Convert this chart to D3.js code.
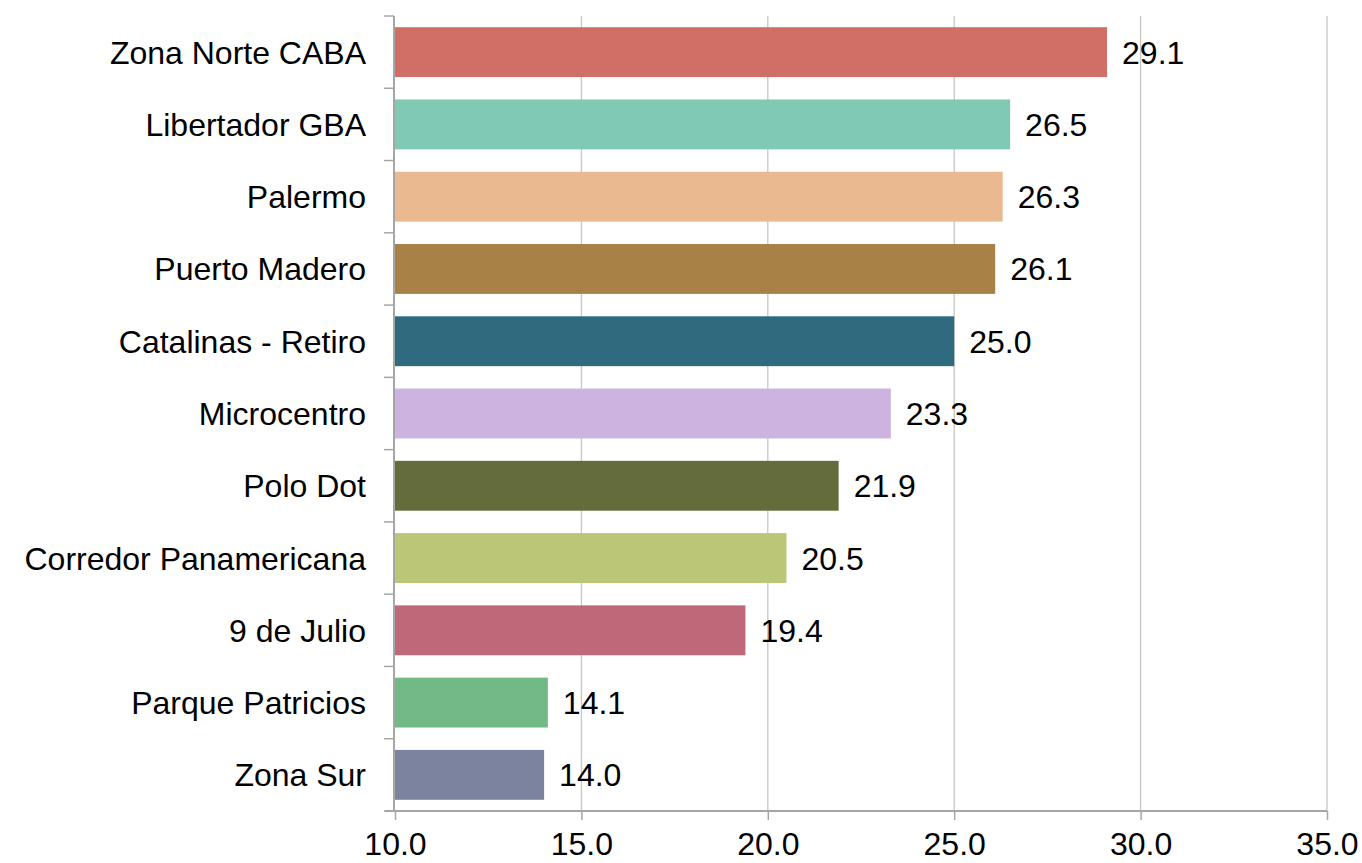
<!DOCTYPE html>
<html><head><meta charset="utf-8">
<script src="https://cdn.jsdelivr.net/npm/d3@7"></script>
<style>body{margin:0;background:#fff;} svg{display:block;font-family:"Liberation Sans",Arial,sans-serif;}</style>
</head><body>
<svg id="c" width="1362" height="863"></svg>
<script>
const categories = ["Zona Norte CABA","Libertador GBA","Palermo","Puerto Madero","Catalinas - Retiro","Microcentro","Polo Dot","Corredor Panamericana","9 de Julio","Parque Patricios","Zona Sur"];
const values = [29.1,26.5,26.3,26.1,25.0,23.3,21.9,20.5,19.4,14.1,14.0];
const colors = ["#CF6F66","#80C9B4","#EAB990","#A88147","#2F6B7E","#CDB3DF","#646C3C","#BBC676","#BE6879","#71BA86","#7B839E"];
const xTicks = [10,15,20,25,30,35];

(function(){
const svg = d3.select("#c");
const L = 395, R = 1327, T = 16, B = 811;
const FS = 32;
const x = d3.scaleLinear().domain([10,35]).range([L,R]);
const y = d3.scaleBand().domain(categories).range([T,B]).paddingInner(0.31).paddingOuter(0.155);

// gridlines
svg.append("g").selectAll("line").data(xTicks.slice(1)).join("line")
  .attr("x1",d=>x(d)).attr("x2",d=>x(d)).attr("y1",T).attr("y2",B)
  .attr("stroke","#c6c6c6").attr("stroke-width",1.3);

// bars
svg.append("g").selectAll("rect").data(values).join("rect")
  .attr("x",x(10)).attr("y",(d,i)=>y(categories[i]))
  .attr("width",d=>x(d)-x(10)).attr("height",y.bandwidth())
  .attr("fill",(d,i)=>colors[i]);

// value labels
svg.append("g").selectAll("text").data(values).join("text")
  .attr("x",d=>x(d)+15).attr("y",(d,i)=>y(categories[i])+y.bandwidth()/2)
  .attr("dy","0.36em").attr("font-size",FS).attr("fill","#000")
  .text(d=>d.toFixed(1));

// x axis
const xAxis = d3.axisBottom(x).tickValues(xTicks).tickFormat(d=>d.toFixed(1)).tickSize(9).tickPadding(18);
const gx = svg.append("g").attr("transform",`translate(0,${B})`).call(xAxis);
gx.select(".domain").attr("stroke","#a6a6a6").attr("stroke-width",2).attr("d",`M${L-10},0H${R}`);
gx.selectAll(".tick line").attr("stroke","#a6a6a6").attr("stroke-width",1.5);
gx.selectAll(".tick text").attr("font-size",FS).attr("fill","#000")
  .attr("font-family","Liberation Sans, Arial, sans-serif")
  .attr("y",44).attr("dy",null);

// y axis
const gy = svg.append("g").attr("transform",`translate(${L-1},0)`);
gy.append("line").attr("x1",0).attr("x2",0).attr("y1",T).attr("y2",B).attr("stroke","#a6a6a6").attr("stroke-width",2);
const bounds = d3.range(categories.length+1).map(i=>T+i*(B-T)/categories.length);
gy.selectAll("line.t").data(bounds).join("line").attr("class","t")
  .attr("x1",-10).attr("x2",0).attr("y1",d=>d).attr("y2",d=>d)
  .attr("stroke","#a6a6a6").attr("stroke-width",1.5);
svg.append("g").selectAll("text").data(categories).join("text")
  .attr("x",366).attr("y",d=>y(d)+y.bandwidth()/2).attr("dy","0.36em")
  .attr("text-anchor","end").attr("font-size",FS).attr("fill","#000").text(d=>d);
})();
</script>
</body></html>
